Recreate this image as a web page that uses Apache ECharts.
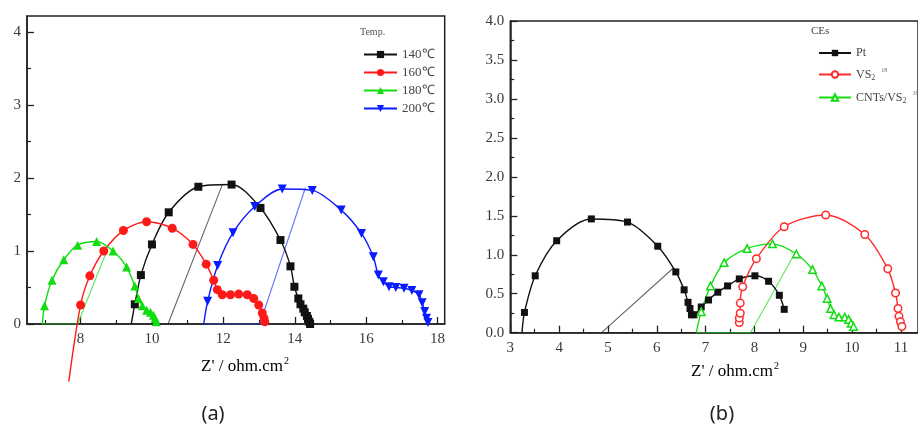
<!DOCTYPE html>
<html>
<head>
<meta charset="utf-8">
<script src="https://cdn.jsdelivr.net/npm/echarts@6/dist/echarts.min.js"></script>
<style>
  html, body { margin: 0; padding: 0; background: #fff; }
  #chart { width: 918px; height: 427px; }
</style>
</head>
<body>
<div id="chart"></div>
<script>
// Nyquist plots: Z' (real) vs -Z'' (imaginary), ohm.cm^2

// ---- panel (a): annealing temperature ----
const tempNames = ['140℃', '160℃', '180℃', '200℃'];

const re140 = [9.42, 9.52, 9.69, 10.0, 10.47, 11.3, 12.23, 13.04, 13.6, 13.88, 13.99, 14.1, 14.16, 14.24, 14.28, 14.34, 14.37, 14.41, 14.43];
const im140 = [0, 0.27, 0.67, 1.09, 1.53, 1.88, 1.91, 1.59, 1.15, 0.79, 0.51, 0.35, 0.27, 0.21, 0.16, 0.11, 0.07, 0.03, 0.0];

const re160 = [7.67, 8.0, 8.26, 8.65, 9.2, 9.85, 10.57, 11.15, 11.52, 11.73, 11.83, 11.97, 12.2, 12.43, 12.67, 12.85, 12.99, 13.09, 13.14, 13.16];
const im160 = [-0.79, 0.26, 0.66, 1.0, 1.28, 1.40, 1.31, 1.09, 0.82, 0.60, 0.47, 0.40, 0.40, 0.41, 0.40, 0.35, 0.26, 0.15, 0.08, 0.03];

const re180 = [6.93, 6.99, 7.2, 7.53, 7.92, 8.45, 8.91, 9.29, 9.52, 9.62, 9.73, 9.85, 9.96, 10.04, 10.09, 10.12];
const im180 = [0, 0.25, 0.60, 0.88, 1.08, 1.13, 1.0, 0.78, 0.52, 0.35, 0.25, 0.19, 0.16, 0.12, 0.08, 0.03];

const re200 = [11.45, 11.56, 11.84, 12.27, 12.88, 13.65, 14.49, 15.3, 15.87, 16.2, 16.34, 16.48, 16.64, 16.83, 17.06, 17.28, 17.48, 17.57, 17.64, 17.69, 17.73];
const im200 = [0, 0.31, 0.80, 1.25, 1.61, 1.85, 1.83, 1.56, 1.24, 0.92, 0.67, 0.58, 0.51, 0.50, 0.49, 0.46, 0.40, 0.29, 0.17, 0.08, 0.02];

// circle-fit guides (intercept along the axis, then radius line)
const guide140Re = [9.42, 10.45, 11.98];
const guide140Im = [0, 0, 1.92];
const guide180Re = [6.93, 7.92, 8.75];
const guide180Im = [0, 0, 1.02];
const guide200Re = [11.45, 13.02, 14.3];
const guide200Im = [0, 0, 1.87];

const xTicksA = [8, 10, 12, 14, 16, 18];
const xMinorA = [7, 9, 11, 13, 15, 17];
const yTicksA = [0, 1, 2, 3, 4];
const yMinorA = [0.5, 1.5, 2.5, 3.5];

// ---- panel (b): counter electrodes ----
const ceNames = ['Pt', 'VS2', 'CNTs/VS2'];

const rePt = [3.24, 3.29, 3.51, 3.95, 4.66, 5.40, 6.02, 6.39, 6.56, 6.64, 6.68, 6.71, 6.76, 6.91, 7.06, 7.25, 7.45, 7.69, 8.01, 8.29, 8.51, 8.61];
const imPt = [0, 0.26, 0.73, 1.18, 1.46, 1.42, 1.11, 0.78, 0.55, 0.39, 0.31, 0.23, 0.23, 0.33, 0.42, 0.52, 0.60, 0.69, 0.73, 0.66, 0.48, 0.30];

const reVS2 = [7.69, 7.69, 7.71, 7.71, 7.76, 8.04, 8.61, 9.46, 10.26, 10.73, 10.89, 10.94, 10.96, 10.99, 11.02];
const imVS2 = [0.13, 0.19, 0.25, 0.38, 0.59, 0.95, 1.36, 1.51, 1.26, 0.82, 0.51, 0.31, 0.21, 0.14, 0.08];

const reCNT = [6.81, 6.91, 7.10, 7.38, 7.85, 8.37, 8.86, 9.19, 9.38, 9.49, 9.56, 9.63, 9.73, 9.85, 9.93, 9.98, 10.03];
const imCNT = [0, 0.27, 0.60, 0.90, 1.08, 1.14, 1.01, 0.81, 0.60, 0.44, 0.31, 0.23, 0.20, 0.20, 0.17, 0.12, 0.08];

const guidePtRe = [3.24, 4.87, 6.34];
const guidePtIm = [0, 0, 0.83];
const guideCNTRe = [6.81, 7.92, 8.82];
const guideCNTIm = [0, 0, 1.01];

const xTicksB = [3, 4, 5, 6, 7, 8, 9, 10, 11];
const xMinorB = [3.5, 4.5, 5.5, 6.5, 7.5, 8.5, 9.5, 10.5];
const yTicksB = [0, 0.5, 1, 1.5, 2, 2.5, 3, 3.5, 4];
const yMinorB = [0.25, 0.75, 1.25, 1.75, 2.25, 2.75, 3.25, 3.75];

// ---- styling ----
const SERIF = 'Liberation Serif, Times New Roman, serif';
const INK = '#222';
const LABEL = '#3a3a3a';

function pairs(re, im) { return re.map((x, i) => [x, im[i]]); }

// measured arc; the listed indices are fit end points drawn without a marker
function arc(name, re, im, color, symbol, size, hollow, axis, bare) {
  return {
    name: name,
    type: 'line',
    xAxisIndex: axis,
    yAxisIndex: axis,
    data: pairs(re, im).map((p, i) => bare.indexOf(i) >= 0 ? { value: p, symbol: 'none' } : p),
    smooth: 0.3,
    symbol: symbol,
    symbolSize: size,
    showAllSymbol: true,
    clip: false,
    lineStyle: { color: color, width: 1.4 },
    itemStyle: hollow ? { color: '#fff', borderColor: color, borderWidth: 1.5 } : { color: color },
    z: 3
  };
}

function guide(re, im, color, axis) {
  return {
    type: 'line',
    xAxisIndex: axis,
    yAxisIndex: axis,
    data: pairs(re, im),
    symbol: 'none',
    silent: true,
    lineStyle: { color: color, width: 1.1, opacity: 0.75 },
    z: 2
  };
}

function mainX(grid, min, max, ticks) {
  return {
    type: 'value', gridIndex: grid, position: 'bottom', min: min, max: max,
    axisLine: { lineStyle: { color: INK, width: 1.5 } },
    axisTick: { inside: true, length: 7, customValues: ticks, lineStyle: { color: INK, width: 1.3 } },
    axisLabel: { customValues: ticks, margin: 8, fontFamily: SERIF, fontSize: 15, color: LABEL },
    splitLine: { show: false }
  };
}
function minorX(grid, min, max, ticks) {
  return {
    type: 'value', gridIndex: grid, position: 'bottom', min: min, max: max,
    axisLine: { show: false },
    axisTick: { inside: true, length: 4, customValues: ticks, lineStyle: { color: INK, width: 1.2 } },
    axisLabel: { show: false },
    splitLine: { show: false }
  };
}
function mainY(grid, min, max, ticks, fmt) {
  return {
    type: 'value', gridIndex: grid, position: 'left', min: min, max: max,
    axisLine: { show: true, lineStyle: { color: INK, width: 1.5 } },
    axisTick: { show: true, inside: true, length: 7, customValues: ticks, lineStyle: { color: INK, width: 1.3 } },
    axisLabel: { customValues: ticks, margin: 6, fontFamily: SERIF, fontSize: 15, color: LABEL, formatter: fmt },
    splitLine: { show: false }
  };
}
function minorY(grid, min, max, ticks) {
  return {
    type: 'value', gridIndex: grid, position: 'left', min: min, max: max,
    axisLine: { show: false },
    axisTick: { show: true, inside: true, length: 4, customValues: ticks, lineStyle: { color: INK, width: 1.2 } },
    axisLabel: { show: false },
    splitLine: { show: false }
  };
}

const axisTitleRich = {
  n: { fontFamily: SERIF, fontSize: 17, color: LABEL },
  s: { fontFamily: SERIF, fontSize: 10, color: LABEL, padding: [0, 0, 12, 1] }
};

const chart = echarts.init(document.getElementById('chart'));
chart.setOption({
  animation: false,
  backgroundColor: '#fff',
  grid: [
    { left: 27, top: 16, width: 417.7, height: 308, show: true, borderColor: INK, borderWidth: 1.5 },
    { left: 510.3, top: 21, width: 415, height: 311.7, show: true, borderColor: INK, borderWidth: 1.5 }
  ],
  xAxis: [
    mainX(0, 6.5, 18.2, xTicksA),
    minorX(0, 6.5, 18.2, xMinorA),
    mainX(1, 3, 11.35, xTicksB),
    minorX(1, 3, 11.35, xMinorB)
  ],
  yAxis: [
    mainY(0, 0, 4.219, yTicksA, v => String(v)),
    minorY(0, 0, 4.219, yMinorA),
    mainY(1, 0, 4, yTicksB, v => v.toFixed(1)),
    minorY(1, 0, 4, yMinorB)
  ],
  legend: [
    {
      data: tempNames, orient: 'vertical', left: 358, top: 43,
      itemWidth: 33, itemHeight: 9, itemGap: 5, selectedMode: false,
      textStyle: { fontFamily: SERIF, fontSize: 13, color: '#444' }
    },
    {
      data: ceNames, orient: 'vertical', left: 813, top: 42,
      itemWidth: 32, itemHeight: 8, itemGap: 8, selectedMode: false,
      formatter: function (name) {
        if (name === 'VS2') return 'VS{sb|2}{sp|18}';
        if (name === 'CNTs/VS2') return 'CNTs/VS{sb|2}{sp|19}';
        return name;
      },
      textStyle: {
        fontFamily: SERIF, fontSize: 12, color: '#444',
        rich: {
          sb: { fontFamily: SERIF, fontSize: 8, color: '#444', padding: [7, 0, 0, 0] },
          sp: { fontFamily: SERIF, fontSize: 6, color: '#666', padding: [0, 0, 9, 6] }
        }
      }
    }
  ],
  graphic: [
    { type: 'text', left: 360, top: 27, style: { text: 'Temp.', fontFamily: SERIF, fontSize: 10, fill: '#555' } },
    { type: 'text', left: 811, top: 26, style: { text: 'CEs', fontFamily: SERIF, fontSize: 11, fill: '#444' } },
    { type: 'text', x: 245, y: 367, style: { text: "{n|Z' / ohm.cm}{s|2}", rich: axisTitleRich, align: 'center', verticalAlign: 'middle' } },
    { type: 'text', x: 735, y: 372, style: { text: "{n|Z' / ohm.cm}{s|2}", rich: axisTitleRich, align: 'center', verticalAlign: 'middle' } },
    { type: 'text', x: 213, y: 414, style: { text: '(a)', fontFamily: 'Noto Sans', fontSize: 20, fill: '#222', align: 'center', verticalAlign: 'middle' } },
    { type: 'text', x: 722, y: 414, style: { text: '(b)', fontFamily: 'Noto Sans', fontSize: 20, fill: '#222', align: 'center', verticalAlign: 'middle' } }
  ],
  series: [
    guide(guide140Re, guide140Im, '#333', 0),
    guide(guide180Re, guide180Im, '#22dd22', 0),
    guide(guide200Re, guide200Im, '#3344ff', 0),
    arc(tempNames[0], re140, im140, '#111', 'rect', 8, false, 0, [0]),
    arc(tempNames[1], re160, im160, '#ff1a1a', 'circle', 9, false, 0, [0]),
    arc(tempNames[2], re180, im180, '#11dd11', 'triangle', 9, false, 0, [0]),
    arc(tempNames[3], re200, im200, '#0b1bff', 'path://M0,0 L10,0 L5,9 Z', 9, false, 0, [0]),

    guide(guidePtRe, guidePtIm, '#333', 2),
    guide(guideCNTRe, guideCNTIm, '#22dd22', 2),
    arc(ceNames[0], rePt, imPt, '#111', 'rect', 7, false, 2, [0]),
    arc(ceNames[1], reVS2, imVS2, '#ff2a2a', 'circle', 7.5, true, 2, []),
    arc(ceNames[2], reCNT, imCNT, '#11dd11', 'triangle', 7.5, true, 2, [0])
  ]
});
</script>
</body>
</html>
